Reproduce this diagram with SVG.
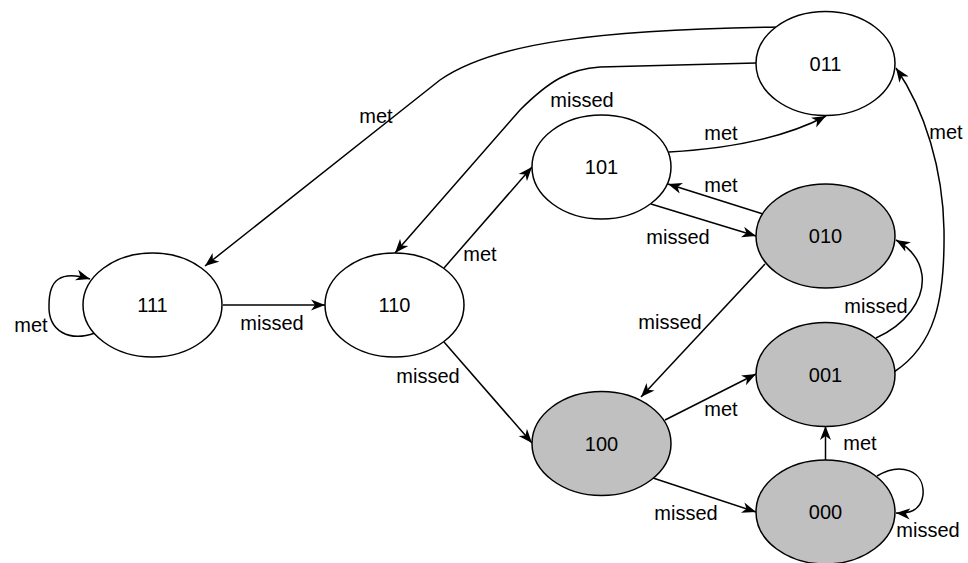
<svg xmlns="http://www.w3.org/2000/svg" width="968" height="563" viewBox="0 0 968 563">
<style>
.n ellipse{stroke:#000;stroke-width:1.5}
.w{fill:#fff}
.g{fill:#c0c0c0}
text{font-family:"Liberation Sans",Arial,sans-serif;font-size:20px;fill:#000}
.nt{text-anchor:middle}
.e path{fill:none;stroke:#000;stroke-width:1.5}
.lb{text-anchor:middle}
</style>
<defs>
<marker id="a" markerUnits="userSpaceOnUse" markerWidth="16" markerHeight="12" refX="14" refY="5.5" orient="auto" viewBox="0 0 16 11">
<path d="M0,0 L14,5.5 L0,11 L4,5.5 Z" fill="#000"/>
</marker>
</defs>
<g id="edges" class="e">
<path d="M 95 333 C 70 342, 48 332, 49 305 C 49 280, 60 270, 90 279" marker-end="url(#a)"/>
<path d="M 223 305 L 325 305" marker-end="url(#a)"/>
<path d="M 779 27 C 600 30, 495 42, 440 80 L 205 266" marker-end="url(#a)"/>
<path d="M 756 63 L 600 67 C 570 69, 550 80, 520 110 L 395 253" marker-end="url(#a)"/>
<path d="M 444 268 L 532 167" marker-end="url(#a)"/>
<path d="M 444 342 L 532 443" marker-end="url(#a)"/>
<path d="M 669 152 C 740 148, 790 135, 826 116" marker-end="url(#a)"/>
<path d="M 763 214 L 668 184" marker-end="url(#a)"/>
<path d="M 651 204 L 756 236" marker-end="url(#a)"/>
<path d="M 765 264 L 641 397" marker-end="url(#a)"/>
<path d="M 665 420 L 756 374" marker-end="url(#a)"/>
<path d="M 653 478 L 756 512" marker-end="url(#a)"/>
<path d="M 825.5 460 L 825.5 426" marker-end="url(#a)"/>
<path d="M 877 476 C 900 462, 925 470, 923 495 C 921 510, 910 514, 896 513" marker-end="url(#a)"/>
<path d="M 876 338 C 905 325, 925 300, 922 275 C 920 260, 910 248, 896 240" marker-end="url(#a)"/>
<path d="M 894 372 C 935 345, 945 300, 944 230 C 943 170, 925 110, 896 68" marker-end="url(#a)"/>
<text class="lb" x="31" y="332">met</text>
<text class="lb" x="272" y="330">missed</text>
<text class="lb" x="376" y="123">met</text>
<text class="lb" x="582" y="107">missed</text>
<text class="lb" x="480" y="261">met</text>
<text class="lb" x="428" y="383">missed</text>
<text class="lb" x="721" y="140">met</text>
<text class="lb" x="721" y="192">met</text>
<text class="lb" x="678" y="244">missed</text>
<text class="lb" x="670" y="329">missed</text>
<text class="lb" x="721" y="416">met</text>
<text class="lb" x="686" y="520">missed</text>
<text class="lb" x="860" y="450">met</text>
<text class="lb" x="928" y="537">missed</text>
<text class="lb" x="876" y="313">missed</text>
<text class="lb" x="946" y="139">met</text>
</g>
<g id="n111" class="n"><ellipse class="w" cx="152.5" cy="305" rx="69.5" ry="52"/><text class="nt" x="152.5" y="312">111</text></g>
<g id="n110" class="n"><ellipse class="w" cx="394.5" cy="305" rx="69.5" ry="52"/><text class="nt" x="394.5" y="312">110</text></g>
<g id="n101" class="n"><ellipse class="w" cx="601.5" cy="167" rx="69.5" ry="52"/><text class="nt" x="601.5" y="174">101</text></g>
<g id="n011" class="n"><ellipse class="w" cx="825.5" cy="63.5" rx="69.5" ry="52"/><text class="nt" x="825.5" y="70.5">011</text></g>
<g id="n010" class="n"><ellipse class="g" cx="825.5" cy="236" rx="69.5" ry="52"/><text class="nt" x="825.5" y="243">010</text></g>
<g id="n001" class="n"><ellipse class="g" cx="825.5" cy="374.5" rx="69.5" ry="52"/><text class="nt" x="825.5" y="381.5">001</text></g>
<g id="n100" class="n"><ellipse class="g" cx="601.5" cy="443.5" rx="69.5" ry="52"/><text class="nt" x="601.5" y="450.5">100</text></g>
<g id="n000" class="n"><ellipse class="g" cx="825.5" cy="512" rx="69.5" ry="52"/><text class="nt" x="825.5" y="519">000</text></g>
</svg>
